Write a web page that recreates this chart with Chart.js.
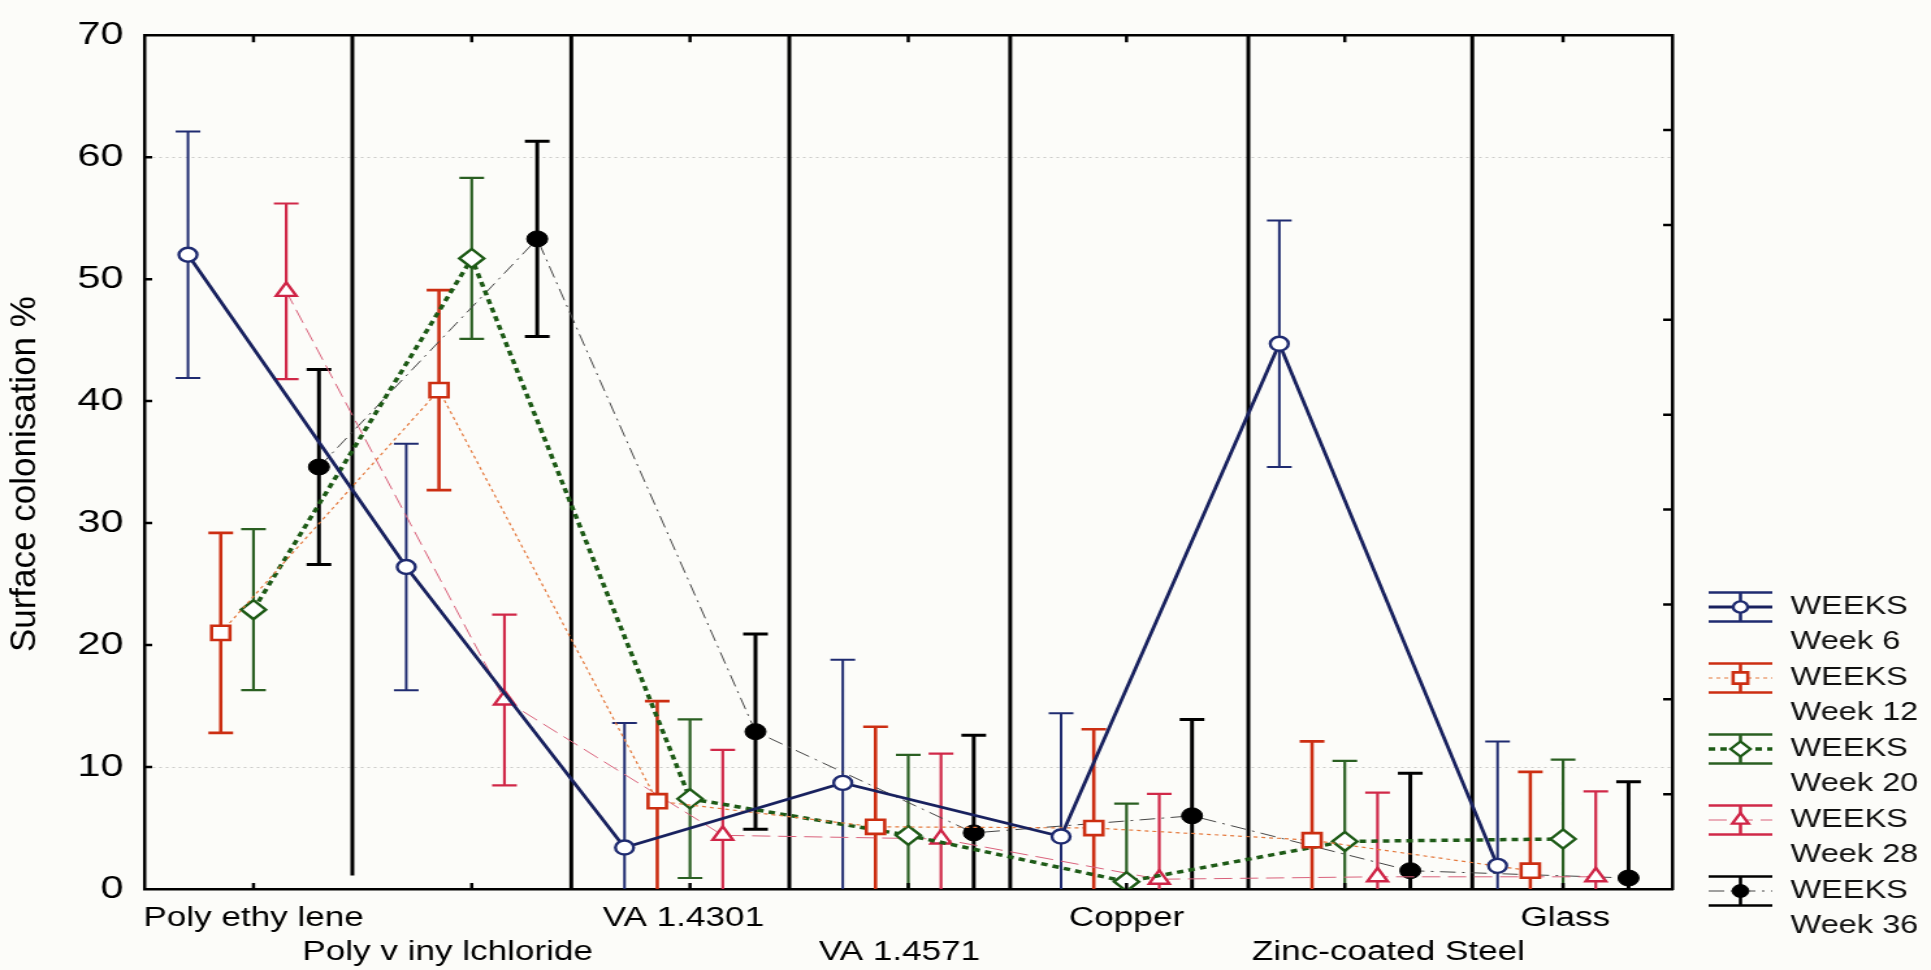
<!DOCTYPE html>
<html>
<head>
<meta charset="utf-8">
<title>Surface colonisation</title>
<script src="https://cdn.jsdelivr.net/npm/chart.js@4.4.1/dist/chart.umd.min.js"></script>
<style>
    html, body { margin: 0; padding: 0; background: #fcfcf9; overflow: hidden; }
    /* Statistica-style export is wide: draw narrow, stretch horizontally */
    #wrap { position: absolute; left: 0; top: 0; width: 1485px; height: 970px; transform: scaleX(1.3003); transform-origin: 0 0; }
</style>
</head>
<body>
<div id="wrap"><canvas id="chart"></canvas></div>
<script>
// ============================================
// Surface colonisation % per material
// mean ± error for five sampling weeks
// ============================================

const materials = ['Poly ethy lene', 'Poly v iny lchloride', 'VA 1.4301', 'VA 1.4571', 'Copper', 'Zinc-coated Steel', 'Glass'];
const weekLabels = ['Week 6', 'Week 12', 'Week 20', 'Week 28', 'Week 36'];
const legendTitle = 'WEEKS';
const yTitle = 'Surface colonisation %';

const week6  = [52.0, 26.4,  3.4, 8.7, 4.3, 44.7, 1.9];
const week12 = [21.0, 40.9,  7.2, 5.1, 5.0,  4.0, 1.5];
const week20 = [22.9, 51.7,  7.4, 4.4, 0.6,  3.9, 4.1];
const week28 = [49.0, 15.5,  4.4, 4.1, 0.8,  1.0, 1.0];
const week36 = [34.6, 53.3, 12.9, 4.6, 6.0,  1.5, 0.9];

// half length of each error bar
const week6Err  = [10.1, 10.1, 10.2, 10.1, 10.1, 10.1, 10.2];
const week12Err = [8.2, 8.2, 8.2, 8.2, 8.1, 8.1, 8.1];
const week20Err = [6.6, 6.6, 6.5, 6.6, 6.4, 6.6, 6.5];
const week28Err = [7.2, 7.0, 7.0, 7.0, 7.0, 6.9, 7.0];
const week36Err = [8.0, 8.0, 8.0, 8.0, 7.9, 8.0, 7.9];

const yTicks = [0, 10, 20, 30, 40, 50, 60, 70];
const gridAt = [10, 60];

// layout helpers (x in category units)
const weekOffset = [-0.3, -0.15, 0, 0.15, 0.3];
const labelNudge = [0, -0.11, -0.03, -0.04, 0, 0.2, 0.01];
const dividers = [0.453, 1.456, 2.455, 3.467, 4.558, 5.584];
const dividerFloor = [1.1, 0, 0, 0, 0, 0];

const FONT = "'Liberation Sans', Arial, Helvetica, sans-serif";
const STRETCH = 1.3003;

const points = (values, k) => values.map((v, i) => ({ x: i + weekOffset[k], y: v }));

const datasets = [
    {
        label: weekLabels[0], data: points(week6, 0), err: week6Err,
        errColor: '#1f2b70', errWidth: 2,
        borderColor: '#18215e', borderWidth: 2.8, borderDash: [],
        pointStyle: 'circle', pointRadius: 7, pointBorderWidth: 2.4,
        pointBorderColor: '#1f2b70', pointBackgroundColor: '#ffffff',
    },
    {
        label: weekLabels[1], data: points(week12, 1), err: week12Err,
        errColor: '#cc2e12', errWidth: 2.6,
        borderColor: '#e4783c', borderWidth: 1.2, borderDash: [3, 3],
        pointStyle: 'rect', pointRadius: 10, pointBorderWidth: 2.6,
        pointBorderColor: '#cc2e12', pointBackgroundColor: '#ffffff',
    },
    {
        label: weekLabels[2], data: points(week20, 2), err: week20Err,
        errColor: '#2a5f22', errWidth: 2.2,
        borderColor: '#1d5a16', borderWidth: 3.5, borderDash: [5, 4],
        pointStyle: 'rectRot', pointRadius: 9.5, pointBorderWidth: 2.4,
        pointBorderColor: '#1d5a16', pointBackgroundColor: '#ffffff',
    },
    {
        label: weekLabels[3], data: points(week28, 3), err: week28Err,
        errColor: '#d02848', errWidth: 2.2,
        borderColor: '#d9607a', borderWidth: 1, borderDash: [14, 6],
        pointStyle: 'triangle', pointRadius: 9, pointBorderWidth: 2.4,
        pointBorderColor: '#cf2446', pointBackgroundColor: '#ffffff',
    },
    {
        label: weekLabels[4], data: points(week36, 4), err: week36Err,
        errColor: '#000000', errWidth: 3,
        borderColor: '#444444', borderWidth: 1, borderDash: [12, 5, 2, 5],
        pointStyle: 'circle', pointRadius: 8, pointBorderWidth: 1,
        pointBorderColor: '#000000', pointBackgroundColor: '#000000',
    },
];

// --- vertical separators between materials ---
const dividerLines = {
    id: 'dividerLines',
    beforeDatasetsDraw(chart) {
        const { ctx, chartArea: a, scales: { x, y } } = chart;
        ctx.save();
        ctx.strokeStyle = '#000';
        ctx.lineWidth = 3;
        ctx.beginPath();
        dividers.forEach((d, i) => {
            const px = x.getPixelForValue(d);
            ctx.moveTo(px, a.top);
            ctx.lineTo(px, y.getPixelForValue(dividerFloor[i]));
        });
        ctx.stroke();
        ctx.restore();
    }
};

// --- error bars, clipped to the plot area ---
const CAP = 9.5;
const errorBars = {
    id: 'errorBars',
    beforeDatasetsDraw(chart) {
        const { ctx, chartArea: a, scales: { y } } = chart;
        ctx.save();
        ctx.beginPath();
        ctx.rect(a.left, a.top, a.right - a.left, a.bottom - a.top);
        ctx.clip();
        chart.data.datasets.forEach((ds, di) => {
            const meta = chart.getDatasetMeta(di);
            ctx.strokeStyle = ds.errColor;
            ctx.lineWidth = ds.errWidth;
            ctx.beginPath();
            meta.data.forEach((pt, i) => {
                const v = ds.data[i].y, e = ds.err[i];
                const top = y.getPixelForValue(v + e);
                const bot = y.getPixelForValue(v - e);
                ctx.moveTo(pt.x, top); ctx.lineTo(pt.x, bot);
                ctx.moveTo(pt.x - CAP, top); ctx.lineTo(pt.x + CAP, top);
                ctx.moveTo(pt.x - CAP, bot); ctx.lineTo(pt.x + CAP, bot);
            });
            ctx.stroke();
        });
        ctx.restore();
    }
};

// --- inward tick marks on all four sides ---
const frameTicks = {
    id: 'frameTicks',
    afterDraw(chart) {
        const { ctx, chartArea: a, scales: { x, y, y2 } } = chart;
        ctx.save();
        ctx.strokeStyle = '#000';
        ctx.lineWidth = 2.5;
        ctx.beginPath();
        materials.forEach((m, i) => {
            const px = x.getPixelForValue(i);
            ctx.moveTo(px, a.bottom); ctx.lineTo(px, a.bottom - 6);
            ctx.moveTo(px, a.top); ctx.lineTo(px, a.top + 7);
        });
        y.ticks.forEach(t => {
            if (t.value <= y.min || t.value >= y.max) return;
            const py = y.getPixelForValue(t.value);
            ctx.moveTo(a.left, py); ctx.lineTo(a.left + 6, py);
        });
        y2.ticks.forEach(t => {
            if (t.value <= y2.min || t.value >= y2.max) return;
            const py = y2.getPixelForValue(t.value);
            ctx.moveTo(a.right, py); ctx.lineTo(a.right - 7, py);
        });
        ctx.stroke();
        ctx.restore();
    }
};

// --- rotated y title; undo the page stretch so the glyphs keep their shape ---
const axisTitle = {
    id: 'axisTitle',
    afterDraw(chart) {
        const { ctx, chartArea: a } = chart;
        ctx.save();
        ctx.translate(20, (a.top + a.bottom) / 2 + 12);
        ctx.scale(1 / STRETCH, 1);
        ctx.rotate(-Math.PI / 2);
        ctx.fillStyle = '#000';
        ctx.font = `35px ${FONT}`;
        ctx.textAlign = 'center';
        ctx.textBaseline = 'middle';
        ctx.fillText(yTitle, 0, 0);
        ctx.restore();
    }
};

// --- legend: cap / marker / cap symbol with two text lines ---
const weekLegend = {
    id: 'weekLegend',
    afterDraw(chart) {
        const { ctx, chartArea: a } = chart;
        const x0 = a.right + 28, x1 = a.right + 77, xm = (x0 + x1) / 2, tx = a.right + 91;
        ctx.save();
        chart.data.datasets.forEach((ds, i) => {
            const cy = a.bottom - 282 + i * 71;

            ctx.setLineDash([]);
            ctx.strokeStyle = ds.errColor;
            ctx.lineWidth = 2.6;
            ctx.beginPath();
            ctx.moveTo(x0, cy - 14.5); ctx.lineTo(x1, cy - 14.5);
            ctx.moveTo(x0, cy + 14.5); ctx.lineTo(x1, cy + 14.5);
            ctx.moveTo(xm, cy - 14.5); ctx.lineTo(xm, cy + 14.5);
            ctx.stroke();

            ctx.strokeStyle = ds.borderColor;
            ctx.lineWidth = ds.borderWidth;
            ctx.setLineDash(ds.borderDash);
            ctx.beginPath();
            ctx.moveTo(x0, cy); ctx.lineTo(x1, cy);
            ctx.stroke();
            ctx.setLineDash([]);

            ctx.fillStyle = ds.pointBackgroundColor;
            ctx.strokeStyle = ds.pointBorderColor;
            ctx.lineWidth = ds.pointBorderWidth;
            Chart.helpers.drawPoint(ctx, {
                pointStyle: ds.pointStyle, radius: ds.pointRadius * 0.8,
                rotation: 0, borderWidth: ds.pointBorderWidth
            }, xm, cy);

            ctx.fillStyle = '#111';
            ctx.font = `25px ${FONT}`;
            ctx.textAlign = 'left';
            ctx.textBaseline = 'middle';
            ctx.fillText(legendTitle, tx, cy);
            ctx.fillText(ds.label, tx, cy + 35);
        });
        ctx.restore();
    }
};

new Chart(document.getElementById('chart'), {
    type: 'line',
    data: { datasets },
    plugins: [dividerLines, errorBars, frameTicks, axisTitle, weekLegend],
    options: {
        responsive: true,
        maintainAspectRatio: false,
        animation: false,
        events: [],
        layout: { padding: { left: 0, right: 199, top: 24.5, bottom: 0 } },
        elements: { line: { tension: 0, fill: false } },
        plugins: {
            legend: { display: false },
            tooltip: { enabled: false },
        },
        scales: {
            x: {
                type: 'linear', position: 'bottom', min: -0.5, max: 6.5,
                // label anchors sit slightly off the category centres, as in the printed figure
                afterBuildTicks: s => { s.ticks = materials.map((m, i) => ({ value: i + labelNudge[i] })); },
                afterFit: s => { s.height = 81; },
                grid: { display: false, drawTicks: false },
                border: { display: true, color: '#000', width: 2.5 },
                ticks: {
                    padding: 13, color: '#000', autoSkip: false, maxRotation: 0,
                    font: { family: FONT, size: 27, lineHeight: 1.25 },
                    callback: (v, i) => (i % 2 === 0 ? materials[i] : ['', materials[i]]),
                },
            },
            x2: {
                type: 'linear', position: 'top', min: -0.5, max: 6.5,
                afterFit: s => { s.height = 0; },
                grid: { display: false, drawTicks: false },
                border: { display: true, color: '#000', width: 2.5 },
                ticks: { display: false },
            },
            y: {
                position: 'left', min: 0, max: 70,
                afterBuildTicks: s => { s.ticks = yTicks.map(v => ({ value: v })); },
                afterFit: s => { s.width = 111; },
                grid: {
                    drawTicks: false, lineWidth: 1,
                    color: c => (c.tick && gridAt.includes(c.tick.value) ? 'rgba(0,0,0,0.2)' : 'rgba(0,0,0,0)'),
                },
                border: { display: true, color: '#000', width: 2.5, dash: [2, 3] },
                ticks: { padding: 16, color: '#000', font: { family: FONT, size: 32 } },
            },
            y2: {
                position: 'right', min: 0, max: 9,
                ticks: { display: false, stepSize: 1 },
                afterFit: s => { s.width = 0; },
                grid: { display: false, drawTicks: false },
                border: { display: true, color: '#000', width: 2.5 },
            },
        },
    },
});
</script>
</body>
</html>
